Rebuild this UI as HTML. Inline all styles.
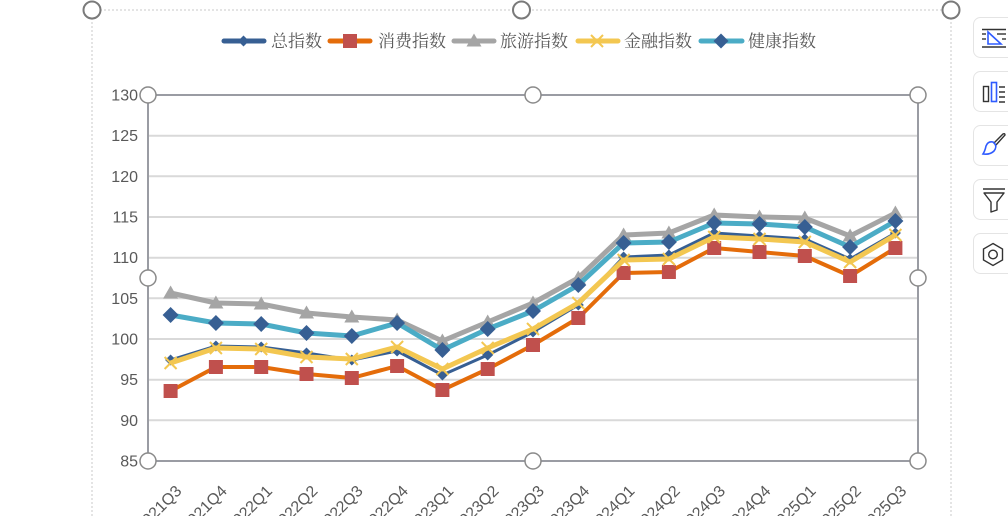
<!DOCTYPE html>
<html>
<head>
<meta charset="utf-8">
<style>
html,body{margin:0;padding:0;background:#fff;}
body{width:1008px;height:516px;overflow:hidden;position:relative;}
svg{display:block;}
</style>
</head>
<body>
<svg width="1008" height="516" viewBox="0 0 1008 516" xmlns="http://www.w3.org/2000/svg">
<defs>
  <marker id="mTot" viewBox="-7 -7 14 14" markerWidth="14" markerHeight="14" refX="0" refY="0" markerUnits="userSpaceOnUse" overflow="visible">
    <path d="M0,-5.5 L5.5,0 L0,5.5 L-5.5,0Z" fill="#375F93"/>
  </marker>
  <marker id="mSq" viewBox="-8 -8 16 16" markerWidth="16" markerHeight="16" refX="0" refY="0" markerUnits="userSpaceOnUse" overflow="visible">
    <rect x="-7" y="-7" width="14" height="14" fill="#C0504D"/>
  </marker>
  <marker id="mTri" viewBox="-8 -8 16 16" markerWidth="16" markerHeight="16" refX="0" refY="0" markerUnits="userSpaceOnUse" overflow="visible">
    <path d="M0,-7.5 L7.5,5.5 L-7.5,5.5Z" fill="#A5A5A5"/>
  </marker>
  <marker id="mX" viewBox="-8 -8 16 16" markerWidth="16" markerHeight="16" refX="0" refY="0" markerUnits="userSpaceOnUse" overflow="visible">
    <path d="M-6,-6 L6,6 M-6,6 L6,-6" stroke="#F3C751" stroke-width="2" fill="none"/>
  </marker>
  <marker id="mHl" viewBox="-9 -9 18 18" markerWidth="18" markerHeight="18" refX="0" refY="0" markerUnits="userSpaceOnUse" overflow="visible">
    <path d="M0,-8 L8,0 L0,8 L-8,0Z" fill="#375F93"/>
  </marker>
</defs>

<!-- dashed frame -->
<g stroke="#c8c8c8" stroke-width="1" stroke-dasharray="2,2" fill="none">
  <line x1="92" y1="10" x2="951" y2="10"/>
  <line x1="92" y1="10" x2="92" y2="516"/>
  <line x1="951" y1="10" x2="951" y2="516"/>
</g>

<!-- legend -->
<g font-family="'Noto Serif CJK SC','Liberation Serif',serif" font-size="17" fill="#595959">
  <line x1="224" y1="41" x2="264" y2="41" stroke="#375F93" stroke-width="5" stroke-linecap="round"/>
  <path d="M243.5,35.5 L249,41 L243.5,46.5 L238,41Z" fill="#375F93"/>
  <text x="271" y="47">总指数</text>

  <line x1="330" y1="41" x2="370" y2="41" stroke="#E46C0A" stroke-width="5" stroke-linecap="round"/>
  <rect x="343" y="34" width="14" height="14" fill="#C0504D"/>
  <text x="378" y="47">消费指数</text>

  <line x1="454" y1="41" x2="494" y2="41" stroke="#A5A5A5" stroke-width="5" stroke-linecap="round"/>
  <path d="M474,33.5 L481.5,46.5 L466.5,46.5Z" fill="#A5A5A5"/>
  <text x="500" y="47">旅游指数</text>

  <line x1="578" y1="41" x2="618" y2="41" stroke="#F3C751" stroke-width="5" stroke-linecap="round"/>
  <path d="M591,35 L603,47 M591,47 L603,35" stroke="#F3C751" stroke-width="2"/>
  <text x="624" y="47">金融指数</text>

  <line x1="701" y1="41" x2="742" y2="41" stroke="#4BACC6" stroke-width="5" stroke-linecap="round"/>
  <path d="M721,33.5 L728.5,41 L721,48.5 L713.5,41Z" fill="#375F93"/>
  <text x="748" y="47">健康指数</text>
</g>

<!-- gridlines -->
<g stroke="#D9D9D9" stroke-width="2">
  <line x1="148" y1="135.7" x2="918" y2="135.7"/>
  <line x1="148" y1="176.3" x2="918" y2="176.3"/>
  <line x1="148" y1="217" x2="918" y2="217"/>
  <line x1="148" y1="257.7" x2="918" y2="257.7"/>
  <line x1="148" y1="298.3" x2="918" y2="298.3"/>
  <line x1="148" y1="339" x2="918" y2="339"/>
  <line x1="148" y1="379.7" x2="918" y2="379.7"/>
  <line x1="148" y1="420.3" x2="918" y2="420.3"/>
</g>

<!-- plot border -->
<rect x="148" y="95" width="770" height="366" fill="none" stroke="#9A9CA3" stroke-width="2"/>

<!-- y labels -->
<g font-family="'Liberation Sans',sans-serif" font-size="16" fill="#595959" text-anchor="end">
  <text x="138" y="100.5">130</text>
  <text x="138" y="141.2">125</text>
  <text x="138" y="181.8">120</text>
  <text x="138" y="222.5">115</text>
  <text x="138" y="263.2">110</text>
  <text x="138" y="303.8">105</text>
  <text x="138" y="344.5">100</text>
  <text x="138" y="385.2">95</text>
  <text x="138" y="425.8">90</text>
  <text x="138" y="466.5">85</text>
</g>

<!-- series -->
<g fill="none" stroke-linejoin="round">
  <polyline stroke="#375F93" stroke-width="3" marker-start="url(#mTot)" marker-mid="url(#mTot)" marker-end="url(#mTot)"
    points="170.6,360 215.9,346 261.2,347 306.5,353 351.8,360 397.1,351 442.4,375 487.7,355 533,332 578.3,305 623.6,257 668.9,255 714.2,233 759.5,236 804.8,239 850.1,259 895.4,233"/>
  <polyline stroke="#E46C0A" stroke-width="4" marker-start="url(#mSq)" marker-mid="url(#mSq)" marker-end="url(#mSq)"
    points="170.6,391 215.9,367 261.2,367 306.5,374 351.8,378 397.1,366 442.4,390 487.7,369 533,345 578.3,318 623.6,273 668.9,272 714.2,248 759.5,252 804.8,256 850.1,276 895.4,248"/>
  <polyline stroke="#A5A5A5" stroke-width="5" marker-start="url(#mTri)" marker-mid="url(#mTri)" marker-end="url(#mTri)"
    points="170.6,293 215.9,303 261.2,304 306.5,313 351.8,317 397.1,320 442.4,341 487.7,322 533,303 578.3,278 623.6,235 668.9,233 714.2,215 759.5,217 804.8,218 850.1,236 895.4,213"/>
  <polyline stroke="#F3C751" stroke-width="5" marker-start="url(#mX)" marker-mid="url(#mX)" marker-end="url(#mX)"
    points="170.6,363 215.9,348 261.2,349 306.5,357 351.8,359 397.1,347 442.4,369 487.7,348 533,329 578.3,303 623.6,260 668.9,259 714.2,237 759.5,239 804.8,242 850.1,262 895.4,235"/>
  <polyline stroke="#4BACC6" stroke-width="5" marker-start="url(#mHl)" marker-mid="url(#mHl)" marker-end="url(#mHl)"
    points="170.6,315 215.9,323 261.2,324 306.5,333 351.8,336 397.1,323 442.4,350 487.7,329 533,311 578.3,285 623.6,243 668.9,242 714.2,223 759.5,224 804.8,227 850.1,247 895.4,221"/>
</g>

<!-- x labels -->
<g font-family="'Liberation Sans',sans-serif" font-size="16" fill="#595959" text-anchor="end">
  <text transform="translate(182.6,492) rotate(-45)">2021Q3</text>
  <text transform="translate(227.9,492) rotate(-45)">2021Q4</text>
  <text transform="translate(273.2,492) rotate(-45)">2022Q1</text>
  <text transform="translate(318.5,492) rotate(-45)">2022Q2</text>
  <text transform="translate(363.8,492) rotate(-45)">2022Q3</text>
  <text transform="translate(409.1,492) rotate(-45)">2022Q4</text>
  <text transform="translate(454.4,492) rotate(-45)">2023Q1</text>
  <text transform="translate(499.7,492) rotate(-45)">2023Q2</text>
  <text transform="translate(545,492) rotate(-45)">2023Q3</text>
  <text transform="translate(590.3,492) rotate(-45)">2023Q4</text>
  <text transform="translate(635.6,492) rotate(-45)">2024Q1</text>
  <text transform="translate(680.9,492) rotate(-45)">2024Q2</text>
  <text transform="translate(726.2,492) rotate(-45)">2024Q3</text>
  <text transform="translate(771.5,492) rotate(-45)">2024Q4</text>
  <text transform="translate(816.8,492) rotate(-45)">2025Q1</text>
  <text transform="translate(862.1,492) rotate(-45)">2025Q2</text>
  <text transform="translate(907.4,492) rotate(-45)">2025Q3</text>
</g>

<!-- plot handles -->
<g fill="#fff" stroke="#8a8a8a" stroke-width="1.5">
  <circle cx="148" cy="95" r="8"/>
  <circle cx="533" cy="95" r="8"/>
  <circle cx="918" cy="95" r="8"/>
  <circle cx="148" cy="278" r="8"/>
  <circle cx="918" cy="278" r="8"/>
  <circle cx="148" cy="461" r="8"/>
  <circle cx="533" cy="461" r="8"/>
  <circle cx="918" cy="461" r="8"/>
</g>
<!-- frame handles -->
<g fill="#fff" stroke="#7a7a7a" stroke-width="2">
  <circle cx="92" cy="10" r="8.5"/>
  <circle cx="521.5" cy="10" r="8.5"/>
  <circle cx="951" cy="10" r="8.5"/>
</g>

<!-- toolbar -->
<g fill="#fff" stroke="#e4e4e4" stroke-width="1">
  <rect x="973.5" y="17.5" width="50" height="40" rx="7"/>
  <rect x="973.5" y="71.5" width="50" height="40" rx="7"/>
  <rect x="973.5" y="125.5" width="50" height="40" rx="7"/>
  <rect x="973.5" y="179.5" width="50" height="40" rx="7"/>
  <rect x="973.5" y="233.5" width="50" height="40" rx="7"/>
</g>
<g fill="none" stroke-width="1.4">
  <!-- icon1 -->
  <line x1="982" y1="29.5" x2="1006" y2="29.5" stroke="#333"/>
  <line x1="982" y1="34" x2="986" y2="34" stroke="#333"/>
  <line x1="982" y1="39" x2="986" y2="39" stroke="#333"/>
  <line x1="997" y1="34" x2="1006" y2="34" stroke="#333"/>
  <line x1="1002" y1="39" x2="1006" y2="39" stroke="#333"/>
  <line x1="982" y1="47" x2="1006" y2="47" stroke="#333"/>
  <path d="M988,32 L988,44 L1001,44 Z" stroke="#2F5BFF" stroke-width="1.6"/>
  <!-- icon2 -->
  <rect x="983.5" y="86.5" width="5" height="15" stroke="#333"/>
  <rect x="991.5" y="82.5" width="5" height="19" stroke="#2F5BFF" stroke-width="1.6"/>
  <path d="M999,87 H1005 M999,92 H1005 M999,97 H1005 M999,102 H1005" stroke="#333"/>
  <!-- icon3 brush -->
  <path d="M994,143 L1003,134 Q1005,133 1005,135 L996,145" stroke="#333"/>
  <path d="M993,142 Q988,141 986,146 Q985,151 983,154 Q990,155 994,151 Q997,147 995,144 Z" stroke="#2F5BFF" stroke-width="1.6"/>
  <!-- icon4 funnel -->
  <path d="M983,189 H1005" stroke="#333"/>
  <path d="M984,193 H1004 L997,202 L997,210 L991,212 L991,202 Z" stroke="#333" stroke-linejoin="round"/>
  <!-- icon5 hexagon -->
  <path d="M993,243.5 L1002.5,249 L1002.5,260 L993,265.5 L983.5,260 L983.5,249 Z" stroke="#333"/>
  <circle cx="993" cy="254.5" r="4.3" stroke="#333"/>
</g>
</svg>
</body>
</html>
